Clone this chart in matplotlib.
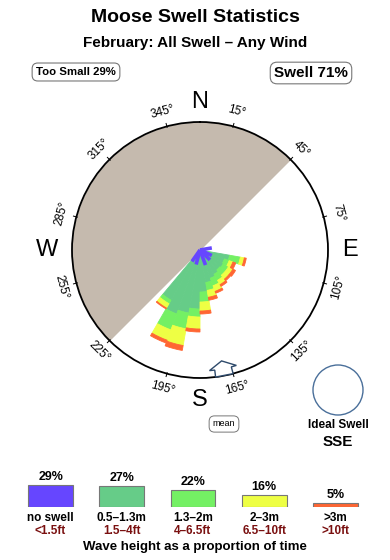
import numpy as np
import matplotlib
matplotlib.use("Agg")
import matplotlib.pyplot as plt
from matplotlib.patches import Circle

plt.rcParams['font.family'] = ['Liberation Sans', 'DejaVu Sans']

# swell rose: direction bins (deg, centre) and stacked radial lengths
# (outer ring of the compass = 128)
directions = [105, 115, 125, 135, 145, 155, 165, 175, 185, 195, 205, 215]
h_green = [30, 26, 27, 26, 28, 30, 33, 42, 59, 64, 68, 58]
h_lgreen = [11, 5, 6, 7, 7, 8, 8, 10, 8, 16, 17, 4]
h_yellow = [4, 4, 5, 5, 5, 6, 7, 9, 12, 17, 11, 5]
h_orange = [2, 3, 3, 2, 2, 2, 3, 3, 3, 5, 3, 1]

# "no swell" spokes
blue_dirs = [80, 115, 135, 160, 195, 215]
blue_len = [12, 13, 14, 16, 15, 14]

RMAX = 128
land_from, land_to = 225, 405   # shaded land sector
mean_dir = 169
ideal_dir = "SSE"
too_small = 29
swell = 71

# legend
leg_pct = [29, 27, 22, 16, 5]
leg_cols = ['#6646ff', '#66cc88', '#74f064', '#eeff44', '#ff6633']
leg_m = ['no swell', '0.5\u20131.3m', '1.3\u20132m', '2\u20133m', '>3m']
leg_ft = ['<1.5ft', '1.5\u20134ft', '4\u20136.5ft', '6.5\u201310ft', '>10ft']

W, H = 390, 560
fig = plt.figure(figsize=(W / 100, H / 100), dpi=100)

def fx(x):
    return x / W

def fy(y):
    return 1 - y / H

fig.text(fx(195), fy(18), 'Moose Swell Statistics', ha='center', va='center',
         fontsize=14, fontweight='bold')
fig.text(fx(195), fy(43), 'February: All Swell \u2013 Any Wind', ha='center',
         va='center', fontsize=11, fontweight='bold')
fig.text(fx(76), fy(72), f'Too Small {too_small}%', ha='center', va='center',
         fontsize=8.2, fontweight='bold',
         bbox=dict(boxstyle='round,pad=0.35,rounding_size=0.5', fc='white',
                   ec='#777777', lw=0.8))
fig.text(fx(311), fy(73), f'Swell {swell}%', ha='center', va='center',
         fontsize=11, fontweight='bold',
         bbox=dict(boxstyle='round,pad=0.25,rounding_size=0.45', fc='white',
                   ec='#777777', lw=0.8))

# ---- rose
cx, cy = 200, 250
ax = fig.add_axes([fx(cx - RMAX), fy(cy + RMAX), 2 * RMAX / W, 2 * RMAX / H],
                  projection='polar')
ax.set_theta_zero_location('N')
ax.set_theta_direction(-1)
ax.set_ylim(0, RMAX)
ax.grid(False)
ax.set_xticks([])
ax.set_yticks([])
ax.spines['polar'].set_linewidth(1.3)

th = np.radians(np.linspace(land_from, land_to, 200))
ax.fill_between(th, 0, RMAX, color='#c5baae', lw=0, zorder=1)

t = np.radians(directions)
wd = np.radians(10)
bottom = np.zeros(len(directions))
for hs, c in zip([h_green, h_lgreen, h_yellow, h_orange], leg_cols[1:]):
    ax.bar(t, hs, width=wd, bottom=bottom, color=c, edgecolor=c, lw=0.6, zorder=2)
    bottom += np.array(hs)
for d, ln in zip(blue_dirs, blue_len):
    ax.plot([np.radians(d)] * 2, [0, ln], color=leg_cols[0], lw=2.6,
            solid_capstyle='butt', zorder=3)

# compass ticks and labels
for d in range(15, 360, 30):
    a = np.radians(d)
    ax.plot([a, a], [RMAX - 1, RMAX + 3], color='black', lw=0.7, clip_on=False, zorder=4)
    rot = -d
    while rot < -90:
        rot += 180
    while rot > 90:
        rot -= 180
    ax.text(a, RMAX + 15, f'{d}\u00b0', rotation=rot, ha='center', va='center',
            fontsize=8.5, rotation_mode='anchor')
for lab, d, r in [('N', 0, 148), ('E', 90, 150), ('S', 180, 150), ('W', 270, 153)]:
    ax.text(np.radians(d), r, lab, ha='center', va='center', fontsize=17)

# mean direction marker
m = mean_dir
pts = [(m - 4, RMAX), (m - 4, 121), (m - 6.5, 121), (m, 113), (m + 6.5, 121),
       (m + 4, 121), (m + 4, RMAX)]
ax.fill(np.radians([p[0] for p in pts]), [p[1] for p in pts], facecolor='white',
        edgecolor='#2e4a6b', lw=1, zorder=5, clip_on=False)
fig.text(fx(224), fy(424), 'mean', ha='center', va='center', fontsize=6.5,
         bbox=dict(boxstyle='round,pad=0.4,rounding_size=0.6', fc='white',
                   ec='#777777', lw=0.7))

# ideal swell
fig.patches.append(Circle((3.38, (H - 390) / 100), 0.25, transform=fig.dpi_scale_trans,
                          fill=False, ec='#4a6f9a', lw=1))
fig.text(fx(338), fy(425), 'Ideal Swell', ha='center', va='center', fontsize=8.5,
         fontweight='bold')
fig.text(fx(338), fy(442), ideal_dir, ha='center', va='center', fontsize=11,
         fontweight='bold')

# ---- legend bars
scale = 0.76  # px per percent
lax = fig.add_axes([fx(15), fy(507), 356 / W, 45 / H])
lax.bar(range(5), leg_pct, width=0.63, color=leg_cols, edgecolor='#777777', lw=0.8)
lax.set_xlim(-0.5, 4.5)
lax.set_ylim(0, 45 / scale)
lax.axis('off')
for i, p in enumerate(leg_pct):
    lax.text(i, p + 8 / scale, f'{p}%', ha='center', va='center', fontsize=9,
             fontweight='bold')
    lax.text(i, -11 / scale, leg_m[i], ha='center', va='center', fontsize=8.5,
             fontweight='bold')
    lax.text(i, -23.5 / scale, leg_ft[i], ha='center', va='center', fontsize=8.5,
             color='#7a1010', fontweight='bold')
fig.text(fx(195), fy(547), 'Wave height as a proportion of time', ha='center',
         va='center', fontsize=9.5, fontweight='bold')

fig.savefig('out.png', dpi=100)
